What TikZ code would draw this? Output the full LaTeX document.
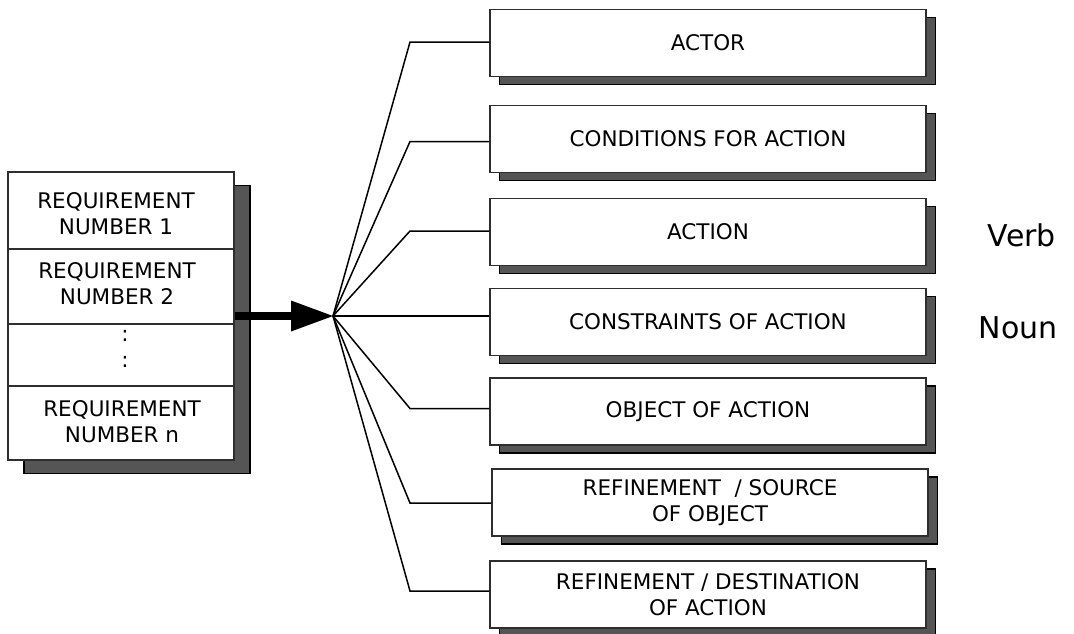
\documentclass[tikz,border=0pt]{standalone}
\usepackage{fontspec}
\setmainfont{DejaVu Sans}
\usetikzlibrary{arrows.meta,shadows}
\definecolor{shadowgray}{HTML}{555555}
\definecolor{edgegray}{HTML}{2E2E2E}
\begin{document}
\begin{tikzpicture}[x=1pt,y=-1pt,
  txt/.style={font=\fontsize{21.5}{26}\selectfont, align=center, inner sep=0pt},
  boxshadow/.style={drop shadow={shadow xshift=#1, shadow yshift=-#1*0.85,
      fill=shadowgray, draw=black, line width=1.2pt, opacity=1}},
  item/.style={txt, draw=edgegray, line width=1.3pt, fill=white,
      minimum width=436pt, minimum height=67pt, boxshadow=9.5pt},
  stack/.style={draw=edgegray, line width=1.5pt, fill=white,
      minimum width=226pt, minimum height=288pt, inner sep=0pt, boxshadow=16pt},
  divider/.style={line width=1.1pt, edgegray},
  link/.style={line width=1.5pt, black},
  bigarrow/.style={line width=8pt, black,
      -{Triangle[length=42pt, width=31pt, line width=0pt]}},
  side/.style={font=\fontsize{30}{36}\selectfont, inner sep=0pt}
]
\useasboundingbox (0,0) rectangle (1074,633);

% requirement stack on the left
\node[stack] (req) at (121,316) {};
\coordinate (d1) at (0,249);
\coordinate (d2) at (0,324);
\coordinate (d3) at (0,386);
\draw[divider] (req.west |- d1) -- (req.east |- d1);
\draw[divider] (req.west |- d2) -- (req.east |- d2);
\draw[divider] (req.west |- d3) -- (req.east |- d3);
\node[txt] (r1) at (116,213.5) {REQUIREMENT\\NUMBER 1};
\node[txt] (r2) at (117,283.5) {REQUIREMENT\\NUMBER 2};
\node[txt] (r3) at (125,349) {:\\:};
\node[txt] (rn) at (122,421.5) {REQUIREMENT\\NUMBER n};

% parts of a requirement
\node[item] (a1) at (708,43)    {ACTOR};
\node[item] (a2) at (708,139)   {CONDITIONS FOR ACTION};
\node[item] (a3) at (708,232)   {ACTION};
\node[item] (a4) at (708,322)   {CONSTRAINTS OF ACTION};
\node[item] (a5) at (708,411.5) {OBJECT OF ACTION};
\node[item] (a6) at (710,502.5) {REFINEMENT\ \ / SOURCE\\OF OBJECT};
\node[item] (a7) at (708,594.5) {REFINEMENT / DESTINATION\\OF ACTION};

\node[side] (verb) at (1022,235) {Verb};
\node[side] (noun) at (1018,327.5) {Noun};

% arrow into the fan
\coordinate (hub) at (333,316);
\draw[bigarrow] (req.east) -- (hub);

% fan of connectors
\coordinate (k1) at (410,42);
\coordinate (k2) at (410,141.5);
\coordinate (k3) at (410,231);
\coordinate (k5) at (410,408.5);
\coordinate (k6) at (410,503);
\coordinate (k7) at (410,591);
\draw[link] (hub) -- (k1) -- (a1.west |- k1);
\draw[link] (hub) -- (k2) -- (a2.west |- k2);
\draw[link] (hub) -- (k3) -- (a3.west |- k3);
\draw[link] (hub) -- (a4.west |- hub);
\draw[link] (hub) -- (k5) -- (a5.west |- k5);
\draw[link] (hub) -- (k6) -- (a6.west |- k6);
\draw[link] (hub) -- (k7) -- (a7.west |- k7);
\end{tikzpicture}
\end{document}
